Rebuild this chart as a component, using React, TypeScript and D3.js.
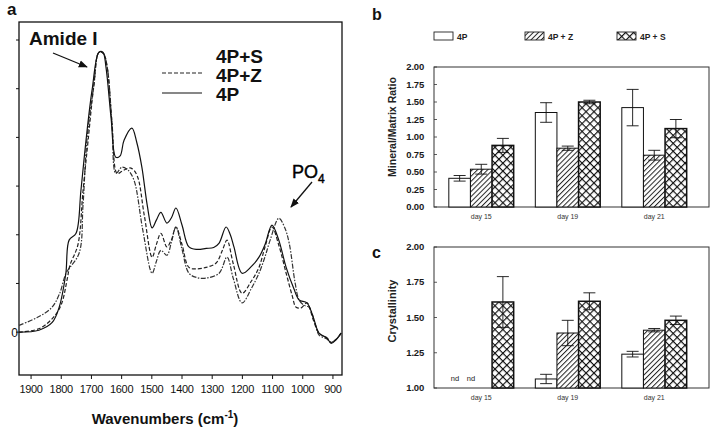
import React from "react";
import * as d3 from "d3";

// ---------- Panel a: FTIR spectra (wavenumber, absorbance) ----------
const spec4P: [number, number][] = [
  [1940, 0.0], [1874, 0.04], [1830, 0.2], [1807, 0.51], [1785, 1.2], [1774, 1.89], [1751, 2.03],
  [1735, 2.9], [1718, 3.94], [1698, 4.97], [1675, 5.75], [1662, 5.75], [1652, 5.45], [1635, 4.4],
  [1619, 3.59], [1605, 3.62], [1592, 3.94], [1566, 4.19], [1550, 3.9], [1533, 3.39], [1515, 2.6],
  [1499, 2.14], [1485, 2.3], [1470, 2.46], [1450, 2.24], [1435, 2.35], [1420, 2.55], [1400, 2.2],
  [1377, 1.75], [1350, 1.7], [1320, 1.72], [1295, 1.74], [1277, 1.83], [1254, 2.16], [1240, 2.0],
  [1228, 1.75], [1201, 1.21], [1170, 1.35], [1145, 1.54], [1125, 1.8], [1102, 2.2], [1080, 1.9],
  [1055, 1.33], [1030, 0.9], [1012, 0.66], [986, 0.6], [965, 0.3], [946, -0.02], [920, -0.12],
  [906, -0.23], [890, -0.16], [873, -0.02],
];
const spec4PZ: [number, number][] = [
  [1940, 0.0], [1870, 0.08], [1820, 0.35], [1798, 0.6], [1780, 1.1], [1771, 1.38], [1745, 1.79],
  [1728, 2.9], [1711, 3.94], [1692, 5.07], [1675, 5.75], [1660, 5.72], [1648, 5.45], [1632, 4.3],
  [1615, 3.26], [1600, 3.3], [1585, 3.35], [1569, 3.37], [1549, 3.22], [1525, 2.4], [1499, 1.54],
  [1485, 1.8], [1470, 2.03], [1450, 1.75], [1435, 1.9], [1420, 2.16], [1400, 1.8], [1377, 1.33],
  [1350, 1.3], [1320, 1.33], [1287, 1.42], [1265, 1.7], [1251, 1.89], [1230, 1.4], [1201, 0.8],
  [1170, 1.05], [1145, 1.33], [1125, 1.75], [1102, 2.16], [1080, 1.8], [1055, 1.21], [1035, 0.75],
  [1022, 0.51], [1005, 0.5], [986, 0.6], [965, 0.25], [946, -0.02], [920, -0.12], [906, -0.21],
  [890, -0.15], [873, -0.02],
];
const spec4PS: [number, number][] = [
  [1940, 0.14], [1880, 0.3], [1831, 0.51], [1805, 0.8], [1784, 1.21], [1741, 1.62], [1728, 2.6],
  [1715, 3.94], [1692, 5.07], [1675, 5.75], [1660, 5.72], [1648, 5.45], [1632, 4.3], [1619, 3.26],
  [1599, 3.39], [1579, 3.33], [1559, 3.12], [1530, 2.1], [1499, 1.21], [1485, 1.45], [1470, 1.68],
  [1450, 1.58], [1435, 1.85], [1420, 2.16], [1400, 1.7], [1377, 1.21], [1350, 1.12], [1320, 1.11],
  [1277, 1.21], [1251, 1.54], [1230, 1.1], [1201, 0.6], [1170, 0.9], [1145, 1.21], [1125, 1.55],
  [1108, 1.89], [1079, 2.34], [1060, 2.15], [1045, 1.83], [1025, 1.0], [1012, 0.66], [995, 0.55],
  [979, 0.51], [960, 0.2], [946, -0.06], [920, -0.14], [906, -0.21], [890, -0.15], [873, -0.02],
];
const specTicks = [1900, 1800, 1700, 1600, 1500, 1400, 1300, 1200, 1100, 1000, 900];
const specYTicks = [0, 1, 2, 3, 4, 5, 6];

// ---------- Panels b & c: bar charts ----------
const days = ["day 15", "day 19", "day 21"];
const groups = ["4P", "4P + Z", "4P + S"];

const ratio4P = [0.41, 1.35, 1.42];
const ratio4PErr = [0.04, 0.14, 0.26];
const ratio4PZ = [0.54, 0.84, 0.74];
const ratio4PZErr = [0.07, 0.03, 0.07];
const ratio4PS = [0.88, 1.5, 1.12];
const ratio4PSErr = [0.1, 0.025, 0.13];

const cryst4P: (number | null)[] = [null, 1.064, 1.24];
const cryst4PErr = [0, 0.033, 0.02];
const cryst4PZ: (number | null)[] = [null, 1.39, 1.41];
const cryst4PZErr = [0, 0.09, 0.012];
const cryst4PS: (number | null)[] = [1.61, 1.615, 1.48];
const cryst4PSErr = [0.18, 0.06, 0.03];

const ratioTicks = [0, 0.25, 0.5, 0.75, 1, 1.25, 1.5, 1.75, 2];
const crystTicks = [1, 1.25, 1.5, 1.75, 2];

const FONT = "'Liberation Sans', Arial, Helvetica, sans-serif";

function fillFor(g: string) {
  if (g === "4P") return "#fff";
  if (g === "4P + Z") return "url(#hatch)";
  return "url(#cross)";
}

function BarPanel(props: {
  means: (number | null)[][];
  errs: number[][];
  y: d3.ScaleLinear<number, number>;
  ticks: number[];
  top: number;
  bottom: number;
  labelY: number;
  base: number;
}) {
  const { means, errs, y, ticks, top, bottom, labelY, base } = props;
  const xBand = d3.scaleBand<string>().domain(days).range([438, 697.5]).paddingInner(0.25).paddingOuter(0.125);
  const xIn = d3.scaleBand<string>().domain(groups).range([0, xBand.bandwidth()]);
  const fmt = d3.format(".2f");
  return (
    <g>
      <rect x={434} y={top} width={275} height={bottom - top} fill="none" stroke="#333" strokeWidth={1} />
      {ticks.map((t) => (
        <g key={t}>
          <line x1={434} x2={437} y1={y(t)} y2={y(t)} stroke="#333" strokeWidth={0.8} />
          <text x={424} y={y(t) + 3.2} textAnchor="end" fontSize={9.5} fontWeight="bold" fontFamily={FONT} fill="#1a1a1a" letterSpacing={-0.2}>
            {fmt(t)}
          </text>
        </g>
      ))}
      {days.map((d, i) =>
        groups.map((g, j) => {
          const v = means[j][i];
          if (v == null) return null;
          const x0 = (xBand(d) as number) + (xIn(g) as number);
          const w = xIn.bandwidth();
          const e = errs[j][i];
          const cx = x0 + w / 2;
          return (
            <g key={d + g}>
              <rect x={x0} y={y(v)} width={w} height={y(base) - y(v)} fill={fillFor(g)} stroke="#111" strokeWidth={g === "4P + S" ? 1.5 : 1} />
              <line x1={cx} x2={cx} y1={y(v + e)} y2={y(v - e)} stroke="#111" strokeWidth={0.9} />
              <line x1={cx - 6} x2={cx + 6} y1={y(v + e)} y2={y(v + e)} stroke="#111" strokeWidth={0.9} />
              <line x1={cx - 6} x2={cx + 6} y1={y(v - e)} y2={y(v - e)} stroke="#111" strokeWidth={0.9} />
            </g>
          );
        })
      )}
      {days.map((d) => (
        <text key={d} x={(xBand(d) as number) + xBand.bandwidth() / 2} y={labelY} textAnchor="middle" fontSize={7} fontFamily={FONT} fill="#333">
          {d}
        </text>
      ))}
    </g>
  );
}

export default function App() {
  const xA = d3.scaleLinear().domain([1940, 870]).range([19, 342]);
  const yA = d3.scaleLinear().domain([-0.88, 6.37]).range([375, 22]);
  const line = d3
    .line<[number, number]>()
    .x((d) => xA(d[0]))
    .y((d) => yA(d[1]))
    .curve(d3.curveCatmullRom.alpha(0.5));

  const yB = d3.scaleLinear().domain([0, 2]).range([207, 67]);
  const yC = d3.scaleLinear().domain([1, 2]).range([388, 247]);

  return (
    <svg width={717} height={437} style={{ position: "absolute", left: 0, top: 0, background: "#fff" }} fontFamily={FONT}>
      <defs>
        <pattern id="hatch" patternUnits="userSpaceOnUse" width={3.6} height={10} patternTransform="rotate(45)">
          <rect width={3.6} height={10} fill="#fff" />
          <line x1={0.5} y1={0} x2={0.5} y2={10} stroke="#222" strokeWidth={1} />
        </pattern>
        <pattern id="cross" patternUnits="userSpaceOnUse" width={5.6} height={5.6} patternTransform="rotate(45)">
          <rect width={5.6} height={5.6} fill="#fff" />
          <line x1={0} y1={0} x2={0} y2={5.6} stroke="#111" strokeWidth={2.3} />
          <line x1={0} y1={0} x2={5.6} y2={0} stroke="#111" strokeWidth={2.3} />
        </pattern>
        <marker id="arrow" viewBox="0 0 10 10" refX={9} refY={5} markerWidth={7} markerHeight={7} orient="auto">
          <path d="M0,1 L10,5 L0,9 z" fill="#111" />
        </marker>
      </defs>
      <rect x={0} y={0} width={717} height={437} fill="#fff" />

      {/* Panel a */}
      <text x={7} y={15} fontSize={17} fontWeight="bold" fill="#111">a</text>
      <rect x={19} y={22} width={323} height={353} fill="none" stroke="#111" strokeWidth={1.3} />
      {specYTicks.map((t) => (
        <line key={t} x1={16} x2={19} y1={yA(t)} y2={yA(t)} stroke="#111" strokeWidth={1} />
      ))}
      <text x={18} y={yA(0) + 4.5} textAnchor="end" fontSize={12} fill="#111">0</text>
      {specTicks.map((t) => (
        <g key={t}>
          <line x1={xA(t)} x2={xA(t)} y1={375} y2={379} stroke="#111" strokeWidth={1} />
          <text x={xA(t)} y={393} textAnchor="middle" fontSize={11} fill="#111" letterSpacing={-0.3}>{t}</text>
        </g>
      ))}
      <text x={165} y={424} textAnchor="middle" fontSize={15} fontWeight="bold" fill="#111">
        Wavenumbers (cm<tspan fontSize={10} dy={-6}>-1</tspan><tspan dy={6}>)</tspan>
      </text>
      <path d={line(spec4PS) || ""} fill="none" stroke="#333" strokeWidth={1.2} strokeDasharray="5,1.5,1.5,1.5" />
      <path d={line(spec4PZ) || ""} fill="none" stroke="#222" strokeWidth={1.2} strokeDasharray="4,2" />
      <path d={line(spec4P) || ""} fill="none" stroke="#111" strokeWidth={1.2} />

      <text x={29} y={45} fontSize={19} fontWeight="bold" fill="#111">Amide I</text>
      <line x1={53} y1={53} x2={87} y2={67} stroke="#111" strokeWidth={1.3} markerEnd="url(#arrow)" />
      <text x={292} y={178} fontSize={18} fill="#000" stroke="#000" strokeWidth={0.4}>PO<tspan fontSize={12} dy={5}>4</tspan></text>
      <line x1={312} y1={182} x2={291} y2={207} stroke="#111" strokeWidth={1.3} markerEnd="url(#arrow)" />

      <text x={216} y={63} fontSize={19} fontWeight="bold" fill="#111">4P+S</text>
      <text x={216} y={82} fontSize={19} fontWeight="bold" fill="#111">4P+Z</text>
      <text x={216} y={101} fontSize={19} fontWeight="bold" fill="#111">4P</text>
      <line x1={162} x2={202} y1={73} y2={73} stroke="#222" strokeWidth={1.2} strokeDasharray="4,2" />
      <line x1={162} x2={202} y1={93} y2={93} stroke="#111" strokeWidth={1.2} />

      {/* Panel b */}
      <text x={372} y={20} fontSize={16} fontWeight="bold" fill="#111">b</text>
      {groups.map((g, i) => {
        const bx = [434, 525, 617][i];
        return (
          <g key={g}>
            <rect x={bx} y={32} width={19} height={8} fill={fillFor(g)} stroke="#222" strokeWidth={0.9} />
            <text x={bx + 23} y={40} fontSize={8.5} fontWeight="bold" fill="#222">{g}</text>
          </g>
        );
      })}
      <text transform="translate(396,127) rotate(-90)" textAnchor="middle" fontSize={10.5} fontWeight="bold" fill="#222">
        Mineral/Matrix Ratio
      </text>
      <BarPanel
        means={[ratio4P, ratio4PZ, ratio4PS]}
        errs={[ratio4PErr, ratio4PZErr, ratio4PSErr]}
        y={yB}
        ticks={ratioTicks}
        top={67}
        bottom={207}
        labelY={219}
        base={0}
      />

      {/* Panel c */}
      <text x={372} y={258} fontSize={16} fontWeight="bold" fill="#111">c</text>
      <text transform="translate(396,311) rotate(-90)" textAnchor="middle" fontSize={11} fontWeight="bold" fill="#222">
        Crystallinity
      </text>
      <BarPanel
        means={[cryst4P, cryst4PZ, cryst4PS]}
        errs={[cryst4PErr, cryst4PZErr, cryst4PSErr]}
        y={yC}
        ticks={crystTicks}
        top={247}
        bottom={388}
        labelY={400}
        base={1}
      />
      <text x={455} y={381} textAnchor="middle" fontSize={7.5} fill="#222">nd</text>
      <text x={471} y={381} textAnchor="middle" fontSize={7.5} fill="#222">nd</text>
    </svg>
  );
}
